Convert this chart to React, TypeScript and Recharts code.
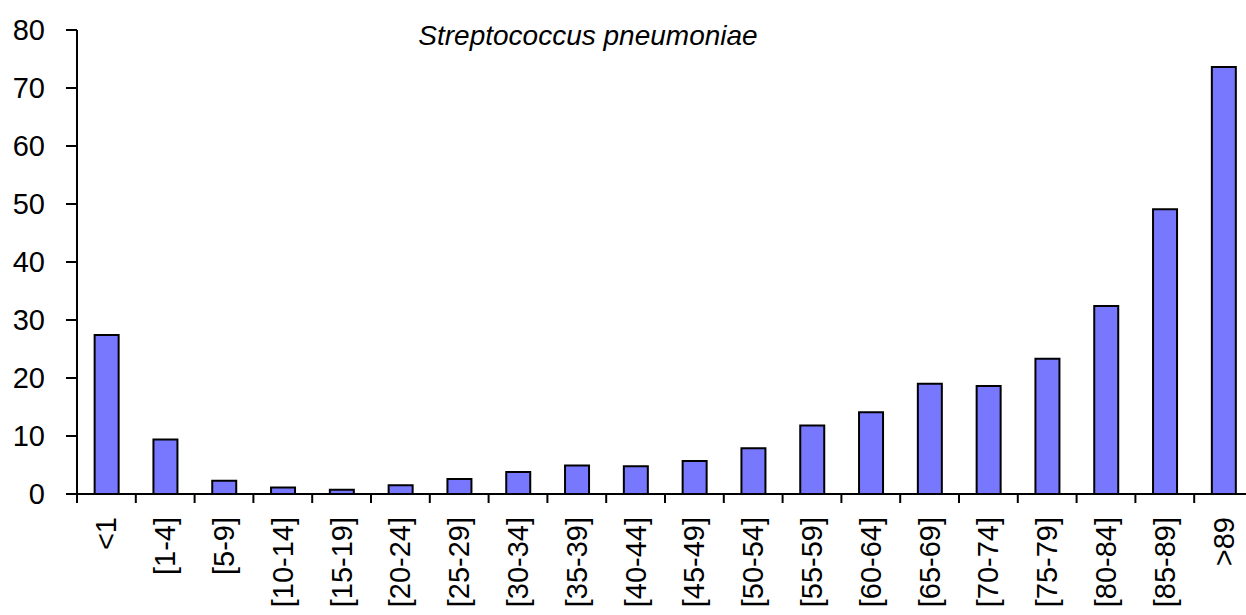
import { Bar, BarChart, XAxis, YAxis } from "recharts";

const ageGroups = [
  "<1", "[1-4]", "[5-9]", "[10-14]", "[15-19]", "[20-24]", "[25-29]",
  "[30-34]", "[35-39]", "[40-44]", "[45-49]", "[50-54]", "[55-59]",
  "[60-64]", "[65-69]", "[70-74]", "[75-79]", "[80-84]", "[85-89]", ">89",
];
const incidence = [
  27.4, 9.4, 2.3, 1.1, 0.75, 1.5, 2.6, 3.8, 4.9, 4.8, 5.7, 7.9, 11.8,
  14.1, 19.0, 18.6, 23.3, 32.4, 49.1, 73.6,
];
const yTicks = [0, 10, 20, 30, 40, 50, 60, 70, 80];

const data = ageGroups.map((age, i) => ({ age, value: incidence[i] }));

const FONT = '"Liberation Sans", Arial, sans-serif';
const CHART_W = 1260;
const Y_AXIS_W = 77;
const MARGIN_R = 7;
// width of one category band, used for Excel-style tick marks between bars
const STEP = (CHART_W - Y_AXIS_W - MARGIN_R) / ageGroups.length;

function AgeTick({ x, y, payload, index }: any) {
  const last = index === ageGroups.length - 1;
  return (
    <g>
      <line x1={x - STEP / 2} x2={x - STEP / 2} y1={y} y2={y + 9} stroke="#000" strokeWidth={2} />
      {last && (
        <line x1={x + STEP / 2} x2={x + STEP / 2} y1={y} y2={y + 9} stroke="#000" strokeWidth={2} />
      )}
      <text
        x={x}
        y={y + 23}
        transform={`rotate(-90, ${x}, ${y + 23})`}
        textAnchor="end"
        dominantBaseline="central"
        fontFamily={FONT}
        fontSize={29}
        fill="#000"
      >
        {payload.value}
      </text>
    </g>
  );
}

export default function App() {
  return (
    <div
      style={{
        position: "absolute",
        left: 0,
        top: 0,
        width: 1246,
        height: 615,
        overflow: "hidden",
        background: "#fff",
      }}
    >
      <div
        style={{
          position: "absolute",
          left: 388,
          top: 21,
          width: 400,
          textAlign: "center",
          fontFamily: FONT,
          fontStyle: "italic",
          fontSize: 28,
          lineHeight: "29px",
          color: "#000",
          zIndex: 1,
        }}
      >
        Streptococcus pneumoniae
      </div>
      <BarChart
        width={CHART_W}
        height={615}
        data={data}
        margin={{ top: 30, right: MARGIN_R, left: 0, bottom: 0 }}
        barCategoryGap="30%"
      >
        <XAxis
          dataKey="age"
          interval={0}
          height={121}
          stroke="#000"
          strokeWidth={2}
          tickLine={false}
          tickSize={0}
          tickMargin={0}
          tick={<AgeTick />}
        />
        <YAxis
          domain={[0, 80]}
          ticks={yTicks}
          width={Y_AXIS_W}
          stroke="#000"
          strokeWidth={2}
          tickSize={11}
          tickMargin={21}
          tick={{ fill: "#000", fontSize: 29, fontFamily: FONT }}
        />
        <Bar
          dataKey="value"
          fill="#7878ff"
          stroke="#000"
          strokeWidth={2}
          isAnimationActive={false}
        />
      </BarChart>
    </div>
  );
}
